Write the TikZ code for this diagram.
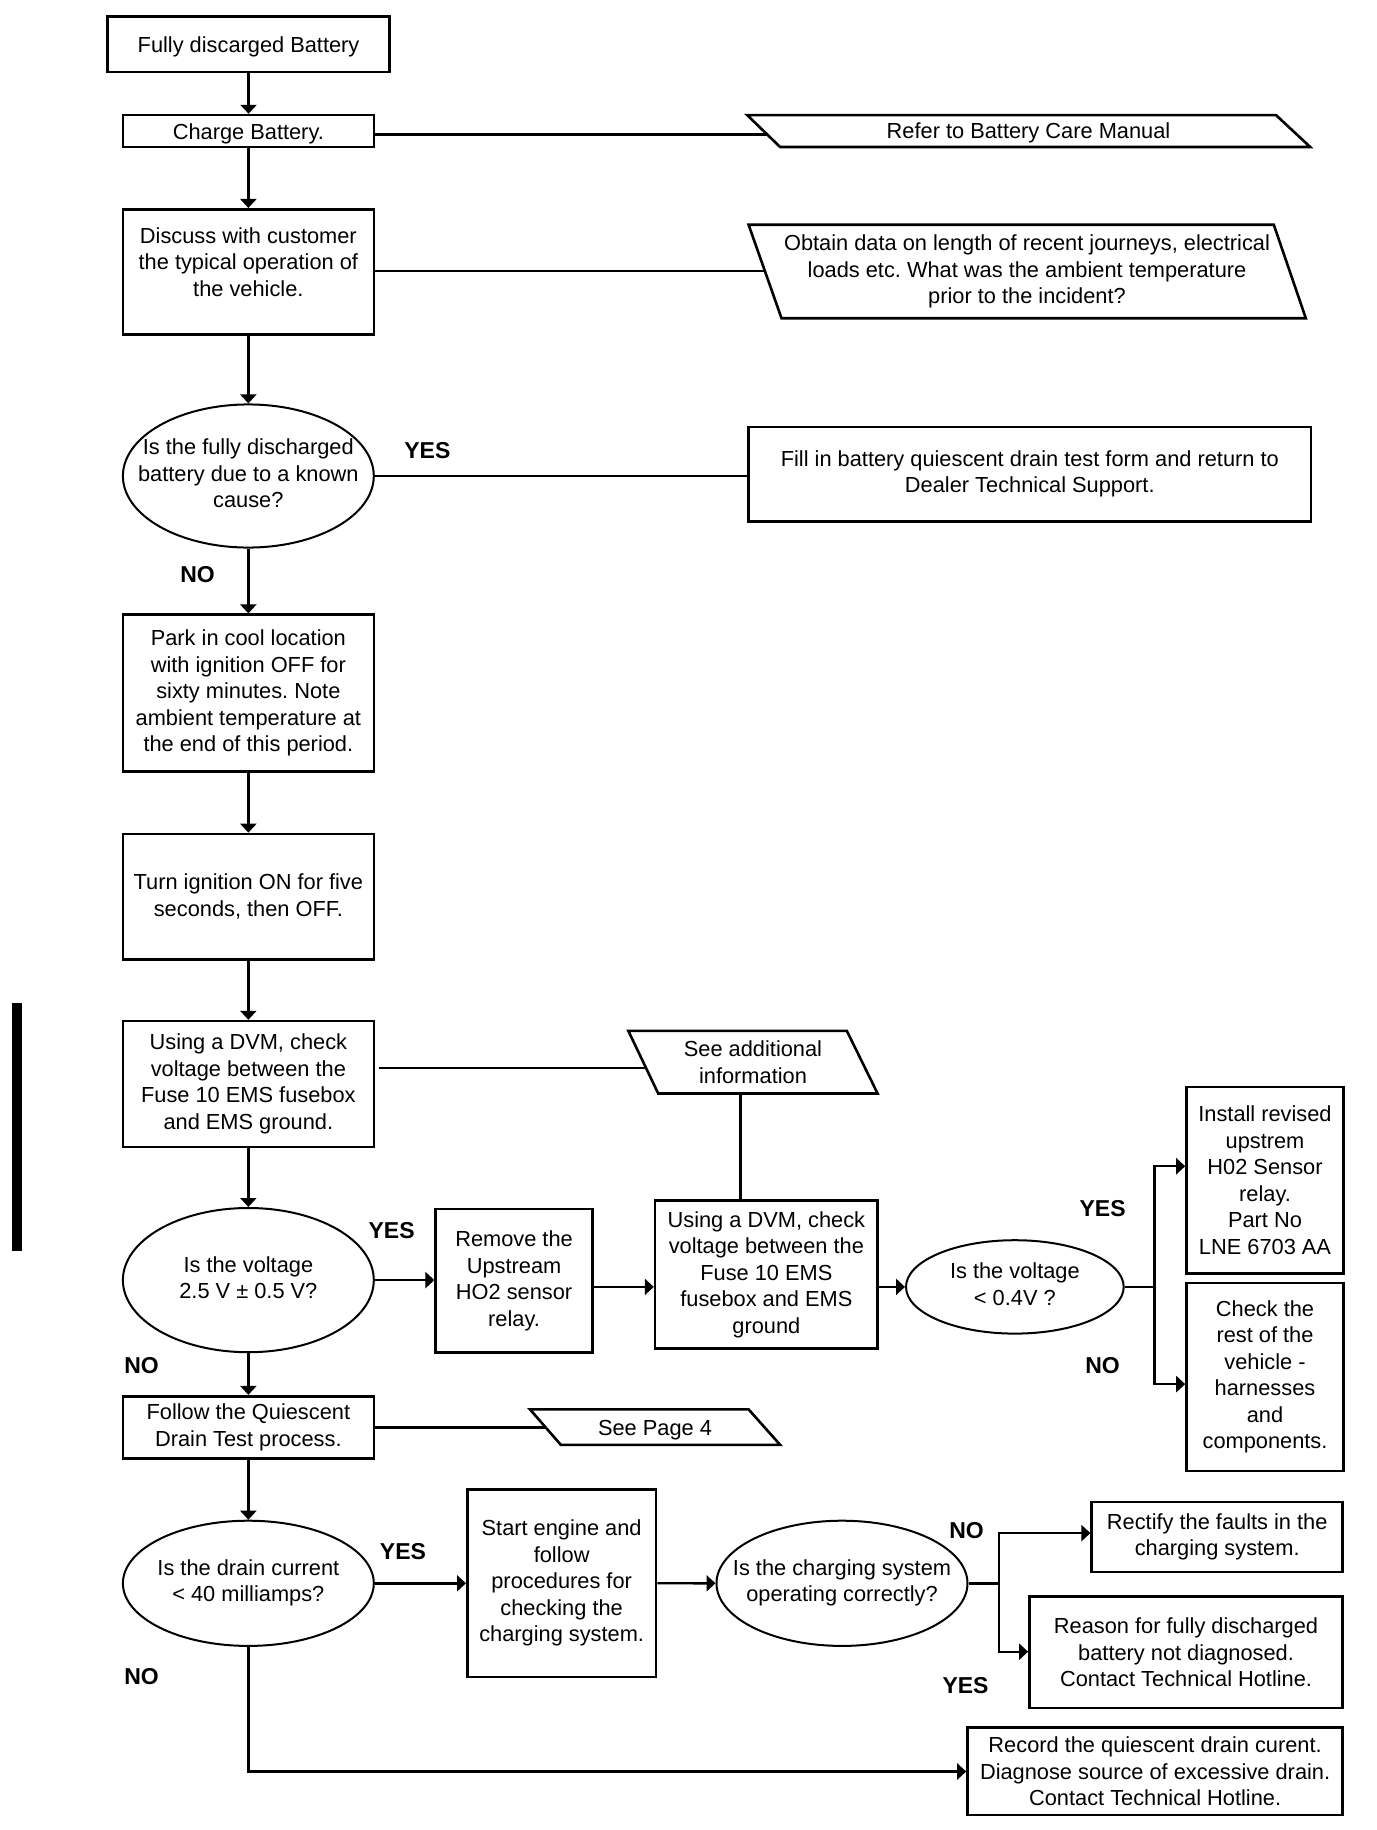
\documentclass[tikz,border=0pt]{standalone}
\usepackage{fontspec}
\setmainfont{Liberation Sans}
\usetikzlibrary{shapes.geometric,arrows.meta}
\newcommand{\ovtext}[1]{\makebox[0pt]{\begin{tabular}{@{}c@{}}#1\end{tabular}}}
\frenchspacing
\begin{document}
\begin{tikzpicture}[x=0.5pt,y=-0.5pt,
  every node/.style={font=\fontsize{10.9pt}{13.25pt}\selectfont},
  box/.style={draw, line width=1.3pt, inner sep=0pt, align=center},
  oval/.style={draw, ellipse, line width=1pt, inner sep=0pt},
  txt/.style={inner sep=0pt, align=center},
  oneline/.style={text height=10.3pt, text depth=2.3pt},
  lbl/.style={inner sep=0pt, font=\fontsize{11.5pt}{13pt}\selectfont\bfseries},
  conn/.style={line width=1.2pt},
  arr/.style={line width=1.2pt, -{Triangle[length=4.5pt,width=8pt]}},
  para/.style={draw, line width=1.3pt, line join=miter},
]
\useasboundingbox (0,0) rectangle (1376,1830);
\fill[white] (0,0) rectangle (1376,1830);

% left bar
\fill[black] (12,1003) rectangle (22,1251);

% main column
\node[box, oneline, minimum width=141.05pt, minimum height=27.65pt] (top) at (248.55,44.35) {Fully discarged Battery};
\node[box, oneline, minimum width=125.45pt, minimum height=15.95pt] (charge) at (248.35,131.05) {Charge Battery.};
\node[box, minimum width=125.45pt, minimum height=62.6pt] (discuss) at (248.35,271.9) {Discuss with customer\\the typical operation of\\the vehicle.\\[-3pt]\mbox{}};
\node[oval, minimum width=125.45pt, minimum height=71.55pt] (q1) at (248.35,476) {\ovtext{Is the fully discharged\\battery due to a known\\cause?}};
\node[box, minimum width=125.45pt, minimum height=78.35pt] (park) at (248.35,693.05) {Park in cool location\\with ignition OFF for\\sixty minutes. Note\\ambient temperature at\\the end of this period.};
\node[box, minimum width=125.45pt, minimum height=62.65pt] (turn) at (248.35,896.65) {Turn ignition ON for five\\seconds, then OFF.};
\node[box, minimum width=125.45pt, minimum height=62.85pt] (dvm1) at (248.35,1083.95) {Using a DVM, check\\voltage between the\\Fuse 10 EMS fusebox\\and EMS ground.};
\node[oval, minimum width=125.45pt, minimum height=72.1pt] (q2) at (248.35,1280.1) {\ovtext{Is the voltage\\2.5 V ± 0.5 V?}};
\node[box, minimum width=125.45pt, minimum height=31.1pt] (follow) at (248.35,1427.3) {Follow the Quiescent\\Drain Test process.};
\node[oval, minimum width=125.45pt, minimum height=62.6pt] (q3) at (248.35,1583.3) {\ovtext{Is the drain current\\< 40 milliamps?}};

% right side, top
\draw[para] (747.2,115.1) -- (1276,115.1) -- (1310.2,147) -- (780.1,147) -- cycle;
\node[txt, oneline] (refer) at (1028.5,131) {Refer to Battery Care Manual};
\coordinate (referL) at (767,134.5);

\draw[para] (748.6,224.8) -- (1273.8,224.8) -- (1305.8,318.2) -- (781.5,318.2) -- cycle;
\node[txt] (obtain) at (1027,271.5) {Obtain data on length of recent journeys, electrical\\loads etc. What was the ambient temperature\\prior to the incident?};
\coordinate (obtainL) at (764.9,271.1);

\node[box, minimum width=281.2pt, minimum height=47.1pt] (fill) at (1029.8,474.1) {Fill in battery quiescent drain test form and return to\\Dealer Technical Support.};

% middle section
\draw[para] (628.3,1030.8) -- (846.8,1030.8) -- (877.6,1093.5) -- (658.2,1093.5) -- cycle;
\node[txt] (addinfo) at (753,1062) {See additional\\information};
\coordinate (addL) at (646.1,1068.2);
\coordinate (addB) at (740.6,1093.5);

\node[box, minimum width=78.35pt, minimum height=71.6pt] (remove) at (514.05,1280.6) {Remove the\\Upstream\\HO2 sensor\\relay.};
\node[box, minimum width=111.25pt, minimum height=74pt] (dvm2) at (766.35,1274.4) {Using a DVM, check\\voltage between the\\Fuse 10 EMS\\fusebox and EMS\\ground};
\node[oval, minimum width=108.85pt, minimum height=46.7pt] (q4) at (1014.85,1286.9) {\ovtext{Is the voltage\\< 0.4V ?}};
\node[box, minimum width=78.5pt, minimum height=93.4pt] (install) at (1265,1180.3) {Install revised\\upstrem\\H02 Sensor\\relay.\\Part No\\LNE 6703 AA};
\node[box, minimum width=78.5pt, minimum height=93.95pt] (check) at (1265,1376.95) {Check the\\rest of the\\vehicle -\\harnesses\\and\\components.};

\draw[para] (530,1409.4) -- (748.6,1409.4) -- (780.1,1444.8) -- (560.8,1444.8) -- cycle;
\node[txt, oneline] (page4) at (655,1427) {See Page 4};
\coordinate (pageL) at (545.2,1427.3);

% bottom section
\node[box, minimum width=94.35pt, minimum height=93.75pt] (start) at (561.65,1583.25) {Start engine and\\follow\\procedures for\\checking the\\charging system.};
\node[oval, minimum width=125.5pt, minimum height=62.6pt] (q5) at (842,1583.3) {\ovtext{Is the charging system\\operating correctly?}};
\node[box, minimum width=125.5pt, minimum height=35pt] (rectify) at (1217.2,1537) {Rectify the faults in the\\charging system.};
\node[box, minimum width=156.65pt, minimum height=55.8pt] (reason) at (1186.05,1652.3) {Reason for fully discharged\\battery not diagnosed.\\Contact Technical Hotline.};
\node[box, minimum width=187.6pt, minimum height=43.75pt] (record) at (1155.1,1771.35) {Record the quiescent drain curent.\\Diagnose source of excessive drain.\\Contact Technical Hotline.};

% labels
\node[lbl] (yes1) at (427.4,450.4) {YES};
\node[lbl] (no1) at (197.5,575) {NO};
\node[lbl] (yes2) at (391.6,1230.9) {YES};
\node[lbl] (no2) at (141.5,1365.9) {NO};
\node[lbl] (yes3) at (1102.6,1209) {YES};
\node[lbl] (no3) at (1102.5,1365.9) {NO};
\node[lbl] (yes4) at (403,1551.8) {YES};
\node[lbl] (no4) at (141.5,1677) {NO};
\node[lbl] (no5) at (966.5,1530.4) {NO};
\node[lbl] (yes5) at (965.5,1686) {YES};

% connectors: main column
\draw[arr] (top.south) -- (top.south |- charge.north);
\draw[arr] (charge.south) -- (discuss.north);
\draw[arr] (discuss.south) -- (q1.north);
\draw[arr] (q1.south) -- (park.north);
\draw[arr] (park.south) -- (turn.north);
\draw[arr] (turn.south) -- (dvm1.north);
\draw[arr] (dvm1.south) -- (q2.north);
\draw[arr] (q2.south) -- (follow.north);
\draw[arr] (follow.south) -- (q3.north);

% side connectors
\draw[conn] (charge.east |- referL) -- (referL);
\draw[conn] (discuss.east |- obtainL) -- (obtainL);
\draw[conn, line width=1pt] (q1.east) -- (q1.east -| fill.west);
\draw[conn] ([xshift=2pt]dvm1.east |- addL) -- (addL);
\draw[conn] (addB) -- (addB |- dvm2.north);
\draw[conn] (follow.east |- pageL) -- (pageL);

\draw[arr] (q2.east) -- (q2.east -| remove.west);
\draw[arr] (remove.east |- q4.west) -- (dvm2.west |- q4.west);
\draw[arr] (dvm2.east |- q4.west) -- (q4.west);

\coordinate (s4) at (1154.4,1286.9);
\coordinate (insA) at (1154.4,1166.2);
\coordinate (chkA) at (1154.4,1384.1);
\draw[conn] (q4.east) -- (s4);
\draw[arr] (s4) -- (insA) -- (insA -| install.west);
\draw[arr] (s4) -- (chkA) -- (chkA -| check.west);

\draw[arr] (q3.east) -- (q3.east -| start.west);
\draw[arr] (start.east) -- (q5.west);

\coordinate (s5) at (998.7,1583.3);
\coordinate (recA) at (998.7,1533.1);
\coordinate (reaA) at (998.7,1651.7);
\draw[conn] (q5.east) -- (s5);
\draw[arr] (s5) -- (recA) -- (recA -| rectify.west);
\draw[arr] (s5) -- (reaA) -- (reaA -| reason.west);

\coordinate (q3d) at (248.35,1771.5);
\draw[arr] (q3.south) -- (q3d) -- (q3d -| record.west);
\end{tikzpicture}
\end{document}
